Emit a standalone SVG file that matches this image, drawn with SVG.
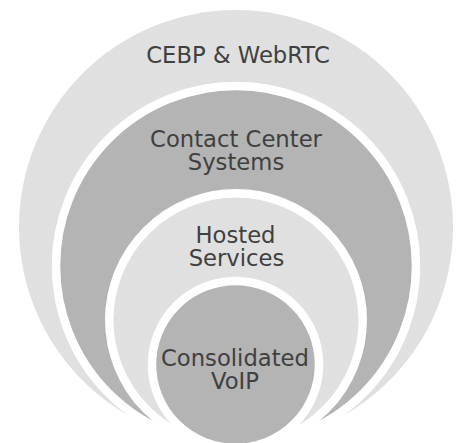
<svg xmlns="http://www.w3.org/2000/svg" width="456" height="443" viewBox="0 0 456 443">
<style>
.light{fill:#e0e0e0}
.dark{fill:#b4b4b4}
.ring{stroke:#ffffff;stroke-width:8.5}
.lbl{font-family:"DejaVu Sans","Verdana",sans-serif;font-size:22.7px;fill:#404040;text-anchor:middle}
</style>
<rect width="456" height="443" fill="#ffffff"/>
<g id="cebp">
<circle class="light" cx="236" cy="227" r="217"/>
<text class="lbl" x="238" y="63">CEBP &amp; WebRTC</text>
</g>
<g id="contact-center">
<circle class="dark ring" cx="236" cy="266" r="180"/>
<text class="lbl" x="236" y="146.7">Contact Center</text>
<text class="lbl" x="236" y="169.5">Systems</text>
</g>
<g id="hosted">
<circle class="light ring" cx="236" cy="320" r="126.7"/>
<text class="lbl" x="235.5" y="243.3">Hosted</text>
<text class="lbl" x="236.5" y="265.5">Services</text>
</g>
<g id="voip">
<circle class="dark ring" cx="235.5" cy="364.5" r="83.5"/>
<text class="lbl" x="235" y="365.7">Consolidated</text>
<text class="lbl" x="235" y="389">VoIP</text>
</g>
<g id="connectors"/>
</svg>
